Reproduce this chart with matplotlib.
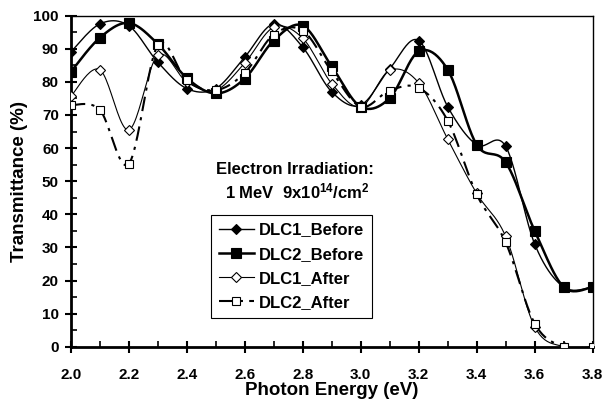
import numpy as np
import matplotlib
matplotlib.use("Agg")
import matplotlib.pyplot as plt
from matplotlib.ticker import MultipleLocator

plt.rcParams["font.family"] = ["Liberation Sans", "DejaVu Sans"]
plt.rcParams["font.weight"] = "bold"
plt.rcParams["mathtext.fontset"] = "custom"
plt.rcParams["mathtext.default"] = "bf"
plt.rcParams["mathtext.bf"] = "Liberation Sans:bold"
plt.rcParams["mathtext.rm"] = "Liberation Sans:bold"

# photon energy (eV)
energy = [2.0, 2.1, 2.2, 2.3, 2.4, 2.5, 2.6, 2.7, 2.8, 2.9,
          3.0, 3.1, 3.2, 3.3, 3.4, 3.5, 3.6, 3.7, 3.8]

# transmittance (%)
dlc1_before = [89, 97.5, 97, 86, 78, 78, 87.5, 97.5, 90.5, 77,
               73, 84, 92.5, 72.5, 61, 60.5, 31, 18, 18]
dlc2_before = [83, 93.3, 97.8, 91.5, 81.2, 76.5, 81, 92.5, 97, 84.7,
               72.5, 75.1, 89.2, 83.7, 61, 55.7, 35, 18, 18]
dlc1_after = [75.6, 83.7, 65.5, 88, 80, 77.5, 85.7, 96.5, 93.2, 79.5,
              72.5, 83.5, 79.7, 62.7, 46.3, 33.3, 6, 0, 0]
dlc2_after = [73, 71.6, 55.2, 91, 80.5, 77.5, 82.7, 94.3, 95.5, 83.2,
              72.5, 77.4, 78.2, 68.3, 46, 31.5, 7, 0, 0]

x_ticks = [2.0, 2.2, 2.4, 2.6, 2.8, 3.0, 3.2, 3.4, 3.6, 3.8]
y_ticks = [0, 10, 20, 30, 40, 50, 60, 70, 80, 90, 100]


def smooth_curve(x, y, n=24):
    """Excel-like smoothed line: bezier segments with catmull-rom handles."""
    p = np.column_stack([np.asarray(x, float), np.asarray(y, float)])
    ext = np.vstack([p[0], p, p[-1]])
    t = np.linspace(0.0, 1.0, n)[:, None]
    out = []
    for i in range(len(p) - 1):
        p0, p1 = ext[i + 1], ext[i + 2]
        c1 = p0 + (ext[i + 2] - ext[i]) / 6.0
        c2 = p1 - (ext[i + 3] - ext[i + 1]) / 6.0
        seg = ((1 - t) ** 3) * p0 + 3 * ((1 - t) ** 2) * t * c1 \
            + 3 * (1 - t) * t ** 2 * c2 + t ** 3 * p1
        out.append(seg if i == 0 else seg[1:])
    out = np.vstack(out)
    return out[:, 0], out[:, 1]


fig = plt.figure(figsize=(6.05, 4.05), dpi=100)
ax = fig.add_axes([70.7 / 605, 1 - 346.7 / 405, (592.7 - 70.7) / 605, (346.7 - 15.7) / 405])

series = [
    ("DLC1_Before", dlc1_before, dict(ls="-", lw=1.0), dict(marker="D", ms=5.5, mfc="black")),
    ("DLC2_Before", dlc2_before, dict(ls="-", lw=1.8), dict(marker="s", ms=7, mfc="black")),
    ("DLC1_After", dlc1_after, dict(ls="-", lw=0.8), dict(marker="D", ms=5, mfc="white")),
    ("DLC2_After", dlc2_after, dict(ls=(0, (7, 3, 1.5, 3)), lw=1.5), dict(marker="s", ms=6, mfc="white")),
]

handles = []
for name, vals, lstyle, mstyle in series:
    sx, sy = smooth_curve(energy, vals)
    ax.plot(sx, sy, color="black", zorder=2, **lstyle)
    ax.plot(energy, vals, ls="none", color="black", mec="black", mew=0.8,
            zorder=3, **mstyle)
    h, = ax.plot([], [], color="black", mec="black", mew=0.8, label=name,
                 **lstyle, **mstyle)
    handles.append(h)

ax.set_xlim(2.0, 3.8)
ax.set_ylim(0, 100)
ax.set_xticks(x_ticks)
ax.set_xticklabels([f"{v:.1f}" for v in x_ticks])
ax.set_yticks(y_ticks)
ax.xaxis.set_minor_locator(MultipleLocator(0.1))
ax.yaxis.set_minor_locator(MultipleLocator(5))
ax.tick_params(which="major", direction="inout", length=8, width=1.5,
               labelsize=11)
ax.tick_params(axis="x", which="major", pad=11)
ax.tick_params(axis="y", which="major", pad=4.5)
ax.tick_params(which="minor", direction="in", length=4, width=1.2)
ax.tick_params(top=False, right=False, which="both")

for side in ("left", "bottom"):
    ax.spines[side].set_linewidth(2.0)
for side in ("top", "right"):
    ax.spines[side].set_linewidth(1.0)

ax.set_xlabel("Photon Energy (eV)", fontsize=13.5, fontweight="bold", labelpad=0)
ax.set_ylabel("Transmittance (%)", fontsize=13.5, fontweight="bold", labelpad=4)

fig.text(295 / 605, 1 - 170 / 405, "Electron Irradiation:", ha="center", va="center",
         fontsize=12, fontweight="bold")
fig.text(297 / 605, 1 - 191 / 405, r"1 MeV  9x10$^{14}$/cm$^{2}$", ha="center", va="center",
         fontsize=12, fontweight="bold")

leg = ax.legend(handles=handles, loc="upper left",
                bbox_to_anchor=(211 / 605, 1 - 215 / 405), bbox_transform=fig.transFigure,
                fancybox=False, frameon=True, edgecolor="black", framealpha=1,
                prop={"size": 12, "weight": "bold"}, handlelength=2.1,
                handletextpad=0.35, labelspacing=0.55, borderpad=0.45, borderaxespad=0)
leg.get_frame().set_linewidth(0.8)

fig.savefig("out.png", dpi=100)
